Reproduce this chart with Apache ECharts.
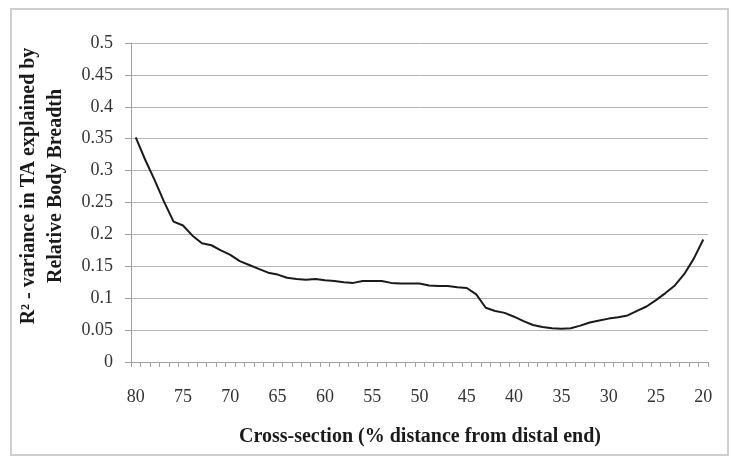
<!DOCTYPE html>
<html>
<head>
<meta charset="utf-8">
<script src="https://cdn.jsdelivr.net/npm/echarts@6/dist/echarts.min.js"></script>
<style>html,body{margin:0;padding:0;background:#fff}#c{width:729px;height:456px}</style>
</head>
<body>
<div id="c"></div>
<script>
var categories = ['80','79','78','77','76','75','74','73','72','71','70','69','68','67','66','65','64','63','62','61','60','59','58','57','56','55','54','53','52','51','50','49','48','47','46','45','44','43','42','41','40','39','38','37','36','35','34','33','32','31','30','29','28','27','26','25','24','23','22','21','20'];
var r2Values = [0.352,0.317,0.285,0.251,0.220,0.214,0.198,0.186,0.183,0.175,0.168,0.158,0.152,0.146,0.140,0.137,0.132,0.130,0.129,0.130,0.128,0.127,0.125,0.124,0.127,0.127,0.127,0.124,0.123,0.123,0.123,0.120,0.119,0.119,0.117,0.116,0.106,0.085,0.080,0.077,0.071,0.064,0.058,0.055,0.053,0.052,0.053,0.057,0.062,0.065,0.068,0.070,0.073,0.080,0.087,0.097,0.108,0.120,0.138,0.162,0.192];
var yTicks = [0,0.05,0.1,0.15,0.2,0.25,0.3,0.35,0.4,0.45,0.5];
var yTitleLines = ['R\u00B2 - variance in TA explained by','Relative Body Breadth'];
var xTitle = 'Cross-section (% distance from distal end)';

var chart = echarts.init(document.getElementById('c'));
var serif = '"Liberation Serif", "DejaVu Serif", serif';
chart.setOption({
  animation: false,
  backgroundColor: '#fff',
  grid: {left: 131, right: 21, top: 43, bottom: 94},
  graphic: [
    {type: 'rect', shape: {x: 11, y: 9, width: 717, height: 446}, style: {fill: 'none', stroke: '#cfcfcf', lineWidth: 2}, silent: true},
    {type: 'text', x: 42, y: 186, rotation: Math.PI / 2, style: {text: yTitleLines.join('\n'), font: 'bold 20px ' + serif, fill: '#1a1a1a', align: 'center', verticalAlign: 'middle', lineHeight: 27}},
    {type: 'text', x: 420, y: 437, style: {text: xTitle, font: 'bold 20px ' + serif, fill: '#1a1a1a', align: 'center', verticalAlign: 'middle'}}
  ],
  xAxis: {
    type: 'category',
    data: categories,
    boundaryGap: true,
    axisLine: {lineStyle: {color: '#a0a0a0', width: 1}},
    axisTick: {show: true, interval: 0, alignWithLabel: false, length: 5, lineStyle: {color: '#a0a0a0'}},
    axisLabel: {interval: 4, margin: 26, color: '#333', fontFamily: serif, fontSize: 18},
    splitLine: {show: false}
  },
  yAxis: {
    type: 'value',
    min: yTicks[0],
    max: yTicks[yTicks.length - 1],
    interval: 0.05,
    axisLine: {show: true, lineStyle: {color: '#a0a0a0', width: 1}},
    axisTick: {show: true, length: 6, lineStyle: {color: '#a0a0a0'}},
    axisLabel: {margin: 18, color: '#333', fontFamily: serif, fontSize: 18,
      formatter: function (v) { return String(+v.toFixed(2)); }},
    splitLine: {show: true, lineStyle: {color: '#b4b4b4', width: 1}}
  },
  series: [{
    type: 'line',
    data: r2Values,
    showSymbol: false,
    symbol: 'none',
    smooth: false,
    lineStyle: {color: '#1a1a1a', width: 2},
    z: 3
  }]
});
</script>
</body>
</html>
